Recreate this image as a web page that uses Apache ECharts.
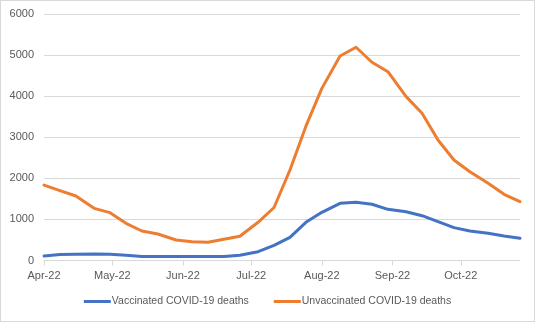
<!DOCTYPE html>
<html>
<head>
<meta charset="utf-8">
<script src="https://cdn.jsdelivr.net/npm/echarts@6/dist/echarts.min.js"></script>
<style>
html,body{margin:0;padding:0;background:#fff;}
#c{width:535px;height:322px;box-sizing:border-box;border:1px solid #d9d9d9;}
</style>
</head>
<body>
<div id="c"></div>
<script>
const dates = ['2022-04-01','2022-04-08','2022-04-15','2022-04-23','2022-04-30','2022-05-07','2022-05-14','2022-05-21','2022-05-29','2022-06-05',
  '2022-06-12','2022-06-19','2022-06-26','2022-07-04','2022-07-11','2022-07-18','2022-07-25','2022-08-01','2022-08-09','2022-08-16',
  '2022-08-23','2022-08-30','2022-09-07','2022-09-14','2022-09-21','2022-09-28','2022-10-05','2022-10-13','2022-10-20','2022-10-27'];
const vaccinated = [110,145,150,158,150,126,95,95,100,100,
  100,100,130,215,370,565,930,1173,1392,1417,
  1368,1246,1188,1091,945,800,718,662,596,540];
const unvaccinated = [1835,1700,1570,1270,1165,905,718,645,500,458,
  443,516,590,930,1290,2203,3270,4190,4978,5190,
  4825,4596,3988,3583,2933,2446,2160,1880,1611,1431];
const tickLabels = ['Apr-22','May-22','Jun-22','Jul-22','Aug-22','Sep-22','Oct-22'];
const seriesNames = ['Vaccinated COVID-19 deaths','Unvaccinated COVID-19 deaths'];

const chart = echarts.init(document.getElementById('c'), null, {renderer:'canvas'});
const font = 'Liberation Sans';
const textColor = '#595959';
const DAY = 86400000;
chart.setOption({
  animation:false,
  textStyle:{fontFamily:font},
  grid:{left:43,right:14,top:13,bottom:60.5,containLabel:false},
  xAxis:{
    type:'time',
    min:dates[0], max:dates[dates.length-1],
    splitNumber:7, minInterval:28*DAY, maxInterval:31*DAY,
    axisLine:{lineStyle:{color:'#d9d9d9',width:1}},
    axisTick:{show:true,length:5,lineStyle:{color:'#d9d9d9'}},
    splitLine:{show:false},
    axisLabel:{
      color:textColor,fontSize:11,fontFamily:font,margin:10,
      formatter:function(v){const d=new Date(v);const i=d.getMonth()-3;return tickLabels[i]||'';}
    }
  },
  yAxis:{
    type:'value',min:0,max:6000,interval:1000,
    axisLine:{show:false},axisTick:{show:false},
    splitLine:{lineStyle:{color:'#d9d9d9',width:1}},
    axisLabel:{color:textColor,fontSize:11,fontFamily:font,margin:10,formatter:function(v){return String(v);}}
  },
  legend:{
    bottom:9,left:'center',
    icon:'rect',itemWidth:27,itemHeight:3,itemGap:25,
    textStyle:{color:textColor,fontSize:10.5,fontFamily:font,padding:[0,0,0,-4]},
    data:seriesNames
  },
  series:[
    {name:seriesNames[0],type:'line',showSymbol:false,symbol:'none',
     data:dates.map((d,i)=>[d,vaccinated[i]]),
     lineStyle:{color:'#4472C4',width:3,join:'round',cap:'round'},itemStyle:{color:'#4472C4'}},
    {name:seriesNames[1],type:'line',showSymbol:false,symbol:'none',
     data:dates.map((d,i)=>[d,unvaccinated[i]]),
     lineStyle:{color:'#ED7D31',width:3,join:'round',cap:'round'},itemStyle:{color:'#ED7D31'}}
  ]
});
</script>
</body>
</html>
